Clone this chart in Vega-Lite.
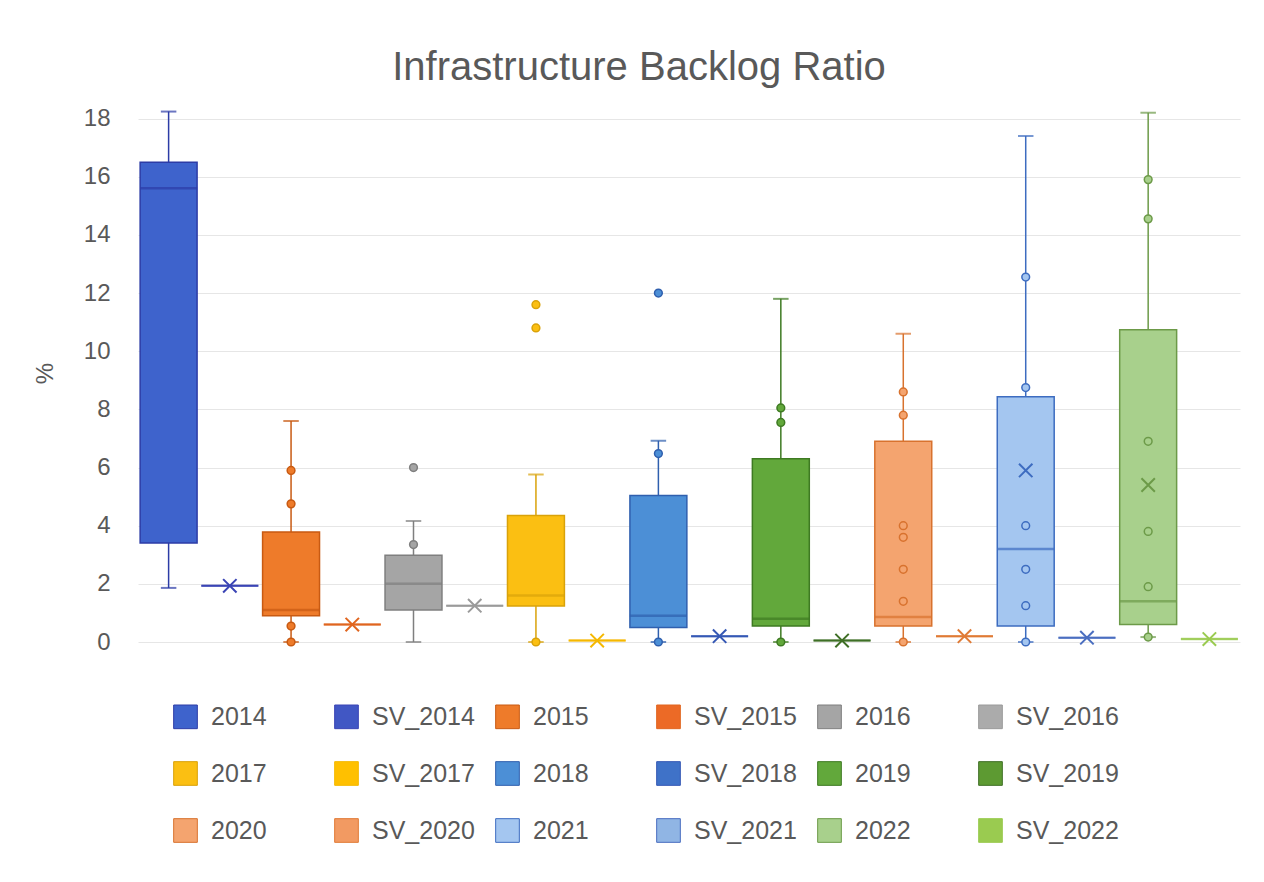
{
  "$schema": "https://vega.github.io/schema/vega-lite/v6.json",
  "width": 1102,
  "height": 538,
  "autosize": "none",
  "padding": {"left": 138, "top": 104, "right": 24, "bottom": 240},
  "background": "white",
  "title": {"text": "Infrastructure Backlog Ratio", "font": "Liberation Sans", "fontSize": 40, "fontWeight": "normal", "color": "#595959", "anchor": "middle", "dx": -50, "baseline": "alphabetic", "offset": -16},
  "config": {
    "view": {"stroke": null},
    "axisY": {"domain": false, "ticks": false, "tickSize": 0, "labelFont": "Liberation Sans", "labelFontSize": 24, "labelColor": "#595959", "labelPadding": 28, "gridColor": "#e6e6e6", "gridWidth": 1, "titleFont": "Liberation Sans", "titleFontSize": 24, "titleColor": "#595959", "titleFontWeight": "normal", "titlePadding": 26}
  },
  "datasets": {
    "boxes": [
      {"series": "2014", "min": 1.86, "q1": 3.4, "median": 15.6, "q3": 16.5, "max": 18.24, "mean": null},
      {"series": "SV_2014", "min": 1.93, "q1": 1.93, "median": 1.93, "q3": 1.93, "max": 1.93, "mean": 1.93},
      {"series": "2015", "min": 0, "q1": 0.9, "median": 1.1, "q3": 3.78, "max": 7.6, "mean": null},
      {"series": "SV_2015", "min": 0.6, "q1": 0.6, "median": 0.6, "q3": 0.6, "max": 0.6, "mean": 0.6},
      {"series": "2016", "min": 0, "q1": 1.1, "median": 2.0, "q3": 2.98, "max": 4.16, "mean": null},
      {"series": "SV_2016", "min": 1.25, "q1": 1.25, "median": 1.25, "q3": 1.25, "max": 1.25, "mean": 1.25},
      {"series": "2017", "min": 0, "q1": 1.24, "median": 1.6, "q3": 4.35, "max": 5.76, "mean": null},
      {"series": "SV_2017", "min": 0.05, "q1": 0.05, "median": 0.05, "q3": 0.05, "max": 0.05, "mean": 0.05},
      {"series": "2018", "min": 0, "q1": 0.5, "median": 0.9, "q3": 5.04, "max": 6.92, "mean": null},
      {"series": "SV_2018", "min": 0.2, "q1": 0.2, "median": 0.2, "q3": 0.2, "max": 0.2, "mean": 0.2},
      {"series": "2019", "min": 0, "q1": 0.55, "median": 0.8, "q3": 6.3, "max": 11.8, "mean": null},
      {"series": "SV_2019", "min": 0.05, "q1": 0.05, "median": 0.05, "q3": 0.05, "max": 0.05, "mean": 0.05},
      {"series": "2020", "min": 0, "q1": 0.55, "median": 0.86, "q3": 6.9, "max": 10.6, "mean": null},
      {"series": "SV_2020", "min": 0.2, "q1": 0.2, "median": 0.2, "q3": 0.2, "max": 0.2, "mean": 0.2},
      {"series": "2021", "min": 0, "q1": 0.55, "median": 3.2, "q3": 8.43, "max": 17.4, "mean": 5.9},
      {"series": "SV_2021", "min": 0.15, "q1": 0.15, "median": 0.15, "q3": 0.15, "max": 0.15, "mean": 0.15},
      {"series": "2022", "min": 0.17, "q1": 0.6, "median": 1.4, "q3": 10.74, "max": 18.2, "mean": 5.4},
      {"series": "SV_2022", "min": 0.1, "q1": 0.1, "median": 0.1, "q3": 0.1, "max": 0.1, "mean": 0.1}
    ],
    "pts": [
      {"series": "2015", "value": 5.9}, {"series": "2015", "value": 4.75}, {"series": "2015", "value": 0.55}, {"series": "2015", "value": 0},
      {"series": "2016", "value": 6.0}, {"series": "2016", "value": 3.35},
      {"series": "2017", "value": 11.6}, {"series": "2017", "value": 10.8}, {"series": "2017", "value": 0},
      {"series": "2018", "value": 12.0}, {"series": "2018", "value": 6.48}, {"series": "2018", "value": 0},
      {"series": "2019", "value": 8.05}, {"series": "2019", "value": 7.55}, {"series": "2019", "value": 0},
      {"series": "2020", "value": 8.6}, {"series": "2020", "value": 7.8}, {"series": "2020", "value": 4.0}, {"series": "2020", "value": 3.6}, {"series": "2020", "value": 2.5}, {"series": "2020", "value": 1.4}, {"series": "2020", "value": 0},
      {"series": "2021", "value": 12.55}, {"series": "2021", "value": 8.75}, {"series": "2021", "value": 4.0}, {"series": "2021", "value": 2.5}, {"series": "2021", "value": 1.25}, {"series": "2021", "value": 0},
      {"series": "2022", "value": 15.9}, {"series": "2022", "value": 14.55}, {"series": "2022", "value": 6.9}, {"series": "2022", "value": 3.8}, {"series": "2022", "value": 1.9}, {"series": "2022", "value": 0.17}
    ]
  },
  "encoding": {
    "x": {"field": "series", "type": "nominal", "axis": null, "scale": {"domain": ["2014", "SV_2014", "2015", "SV_2015", "2016", "SV_2016", "2017", "SV_2017", "2018", "SV_2018", "2019", "SV_2019", "2020", "SV_2020", "2021", "SV_2021", "2022", "SV_2022"], "paddingInner": 0.07, "paddingOuter": 0.035}}
  },
  "layer": [
    {
      "data": {"name": "boxes"},
      "mark": {"type": "rule", "strokeWidth": 1.5},
      "encoding": {
        "y": {"field": "min", "type": "quantitative", "title": "%", "scale": {"domain": [0, 18.5], "nice": false, "zero": false}, "axis": {"values": [0, 2, 4, 6, 8, 10, 12, 14, 16, 18], "title": "%"}},
        "y2": {"field": "max"},
        "stroke": {"field": "series", "type": "nominal", "title": null, "scale": {"domain": ["2014", "SV_2014", "2015", "SV_2015", "2016", "SV_2016", "2017", "SV_2017", "2018", "SV_2018", "2019", "SV_2019", "2020", "SV_2020", "2021", "SV_2021", "2022", "SV_2022"], "range": ["#2C3CA6", "#3A44B5", "#C85A12", "#E0651F", "#7F7F7F", "#9A9A9A", "#D9A20A", "#F5B800", "#2F5FAE", "#3558B5", "#3E7A22", "#3F6F26", "#D8722E", "#E07A35", "#3D6CC0", "#4A6EC0", "#6C9A48", "#9ACB50"]}}
      }
    },
    {
      "data": {"name": "boxes"},
      "transform": [{"filter": "indexof(datum.series, 'SV') < 0"}],
      "mark": {"type": "tick", "filled": false, "size": 14, "thickness": 0.5, "strokeWidth": 1.5},
      "encoding": {
        "y": {"field": "min", "type": "quantitative", "title": "%", "axis": {"values": [0, 2, 4, 6, 8, 10, 12, 14, 16, 18], "title": "%"}},
        "stroke": {"field": "series", "type": "nominal", "title": null}
      }
    },
    {
      "data": {"name": "boxes"},
      "transform": [{"filter": "indexof(datum.series, 'SV') < 0"}],
      "mark": {"type": "tick", "filled": false, "size": 14, "thickness": 0.5, "strokeWidth": 1.5},
      "encoding": {
        "y": {"field": "max", "type": "quantitative", "title": "%", "axis": {"values": [0, 2, 4, 6, 8, 10, 12, 14, 16, 18], "title": "%"}},
        "stroke": {"field": "series", "type": "nominal", "title": null}
      }
    },
    {
      "data": {"name": "boxes"},
      "mark": {"type": "bar", "strokeWidth": 1.5},
      "encoding": {
        "y": {"field": "q1", "type": "quantitative", "title": "%", "axis": {"values": [0, 2, 4, 6, 8, 10, 12, 14, 16, 18], "title": "%"}},
        "y2": {"field": "q3"},
        "fill": {"field": "series", "type": "nominal", "title": null,
          "legend": {"title": null, "orient": "none", "legendX": 35, "legendY": 600, "direction": "horizontal", "columns": 6, "gridAlign": "all", "symbolType": "square", "symbolSize": 560, "symbolStrokeWidth": 1, "symbolOpacity": 1, "labelFont": "Liberation Sans", "labelFontSize": 25, "labelColor": "#595959", "columnPadding": 18, "rowPadding": 28, "labelOffset": 13, "padding": 0, "labelLimit": 300,
            "encode": {"symbols": {"update": {"opacity": {"value": 1}, "fillOpacity": {"value": 1}, "strokeOpacity": {"value": 1}}}}},
          "scale": {"domain": ["2014", "SV_2014", "2015", "SV_2015", "2016", "SV_2016", "2017", "SV_2017", "2018", "SV_2018", "2019", "SV_2019", "2020", "SV_2020", "2021", "SV_2021", "2022", "SV_2022"], "range": ["#3E63CC", "#4157C4", "#EE7B2A", "#EC6A26", "#A5A5A5", "#ABABAB", "#FBBF12", "#FFC000", "#4C8FD6", "#3F72C8", "#62A83B", "#5D9A32", "#F4A46F", "#F29A62", "#A4C6F0", "#90B5E4", "#A8D08C", "#9ACB50"]}},
        "stroke": {"field": "series", "type": "nominal", "title": null}
      }
    },
    {
      "data": {"name": "boxes"},
      "mark": {"type": "tick", "filled": false, "size": 55, "thickness": 0.5, "strokeWidth": 2},
      "encoding": {
        "y": {"field": "median", "type": "quantitative", "title": "%", "axis": {"values": [0, 2, 4, 6, 8, 10, 12, 14, 16, 18], "title": "%"}},
        "stroke": {"field": "series", "type": "nominal", "title": null}
      }
    },
    {
      "data": {"name": "pts"},
      "mark": {"type": "point", "shape": "circle", "filled": true, "size": 60, "strokeWidth": 1.5, "opacity": 1},
      "encoding": {
        "y": {"field": "value", "type": "quantitative", "title": "%", "axis": {"values": [0, 2, 4, 6, 8, 10, 12, 14, 16, 18], "title": "%"}},
        "fill": {"field": "series", "type": "nominal", "title": null},
        "stroke": {"field": "series", "type": "nominal", "title": null}
      }
    },
    {
      "data": {"name": "boxes"},
      "mark": {"type": "point", "shape": "M-1,-1L1,1M-1,1L1,-1", "filled": false, "size": 180, "strokeWidth": 2, "opacity": 1},
      "encoding": {
        "y": {"field": "mean", "type": "quantitative", "title": "%", "axis": {"values": [0, 2, 4, 6, 8, 10, 12, 14, 16, 18], "title": "%"}},
        "stroke": {"field": "series", "type": "nominal", "title": null}
      }
    }
  ]
}
